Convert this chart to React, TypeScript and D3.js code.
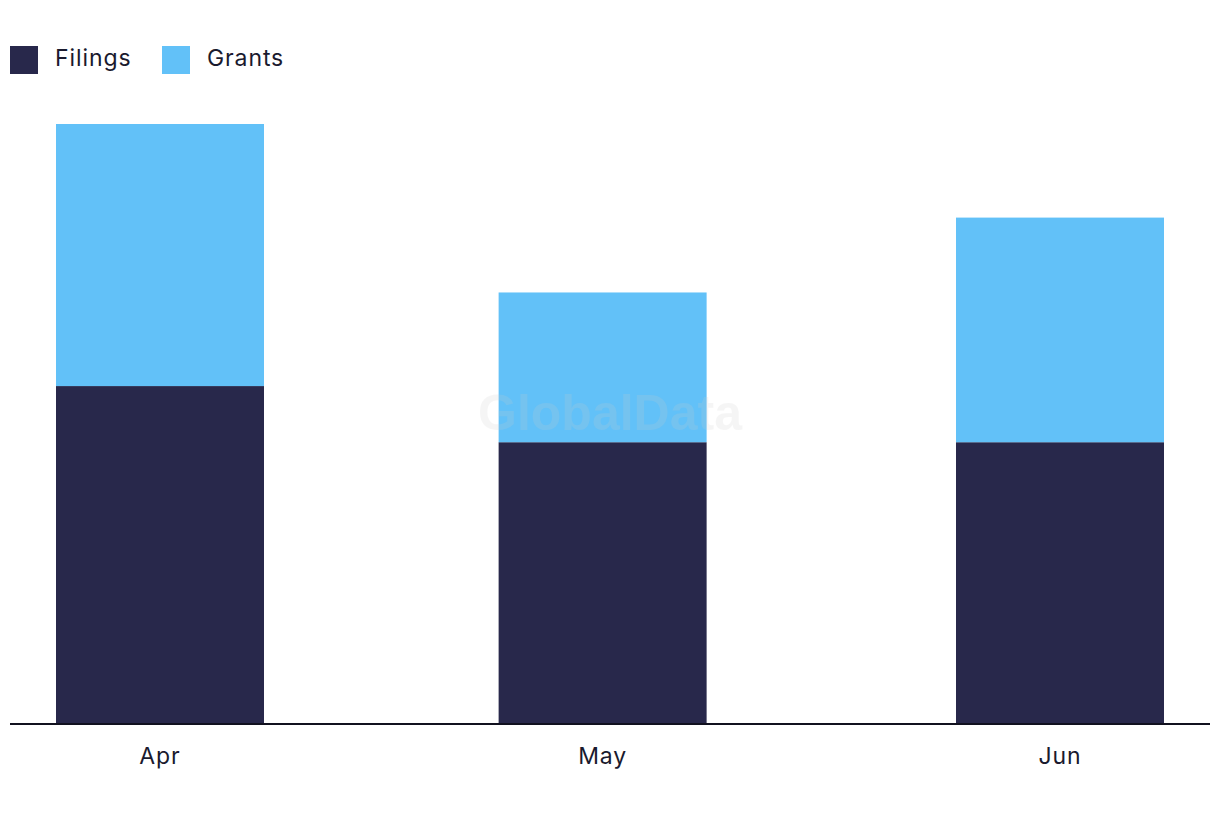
import React from "react";
import * as d3 from "d3";

const months = ["Apr", "May", "Jun"];
const monthDates = [new Date(2023, 3, 1), new Date(2023, 4, 1), new Date(2023, 5, 1)];
const filings = [36, 30, 30];
const grants = [28, 16, 24];
const seriesNames = ["Filings", "Grants"];
const colors = ["#28284b", "#62c1f8"];

const W = 1220;
const H = 822;

export default function App() {
  const x = d3
    .scaleTime()
    .domain([monthDates[0], monthDates[2]])
    .range([160, 1060]);
  const y = d3.scaleLinear().domain([0, 64]).range([723, 124]);
  const barW = 208;
  const font = "Inter, 'Noto Sans', sans-serif";

  const rows = months.map((m, i) => ({ m, d: monthDates[i], f: filings[i], g: grants[i] }));

  return (
    <svg
      width={W}
      height={H}
      style={{ position: "absolute", left: 0, top: 0, display: "block" }}
    >
      <rect width={W} height={H} fill="#fff" />
      {/* legend */}
      {seriesNames.map((s, i) => {
        const lx = i === 0 ? 10 : 162;
        return (
          <g key={s}>
            <rect x={lx} y={46} width={28} height={28} fill={colors[i]} />
            <text x={lx + 45} y={66} fontFamily={font} fontSize={23} fill="#1a1a2e" letterSpacing={0.9}>
              {s}
            </text>
          </g>
        );
      })}
      {/* bars */}
      {rows.map((r) => {
        const cx = x(r.d);
        return (
          <g key={r.m}>
            <rect x={cx - barW / 2} y={y(r.f)} width={barW} height={y(0) - y(r.f)} fill={colors[0]} />
            <rect x={cx - barW / 2} y={y(r.f + r.g)} width={barW} height={y(r.f) - y(r.f + r.g)} fill={colors[1]} />
          </g>
        );
      })}
      {/* watermark */}
      <text
        x={610}
        y={430}
        textAnchor="middle"
        fontFamily="'Liberation Sans', Arial, sans-serif"
        fontWeight="bold"
        fontSize={50}
        fill="#cccccc"
        opacity={0.18}
      >
        GlobalData
      </text>
      {/* axis */}
      <line x1={10} x2={1210} y1={y(0) + 1} y2={y(0) + 1} stroke="#11111f" strokeWidth={2} />
      {rows.map((r) => (
        <text
          key={r.m}
          x={x(r.d)}
          y={764}
          textAnchor="middle"
          fontFamily={font}
          fontSize={23}
          fill="#1a1a2e"
          letterSpacing={0.9}
        >
          {r.m}
        </text>
      ))}
    </svg>
  );
}
